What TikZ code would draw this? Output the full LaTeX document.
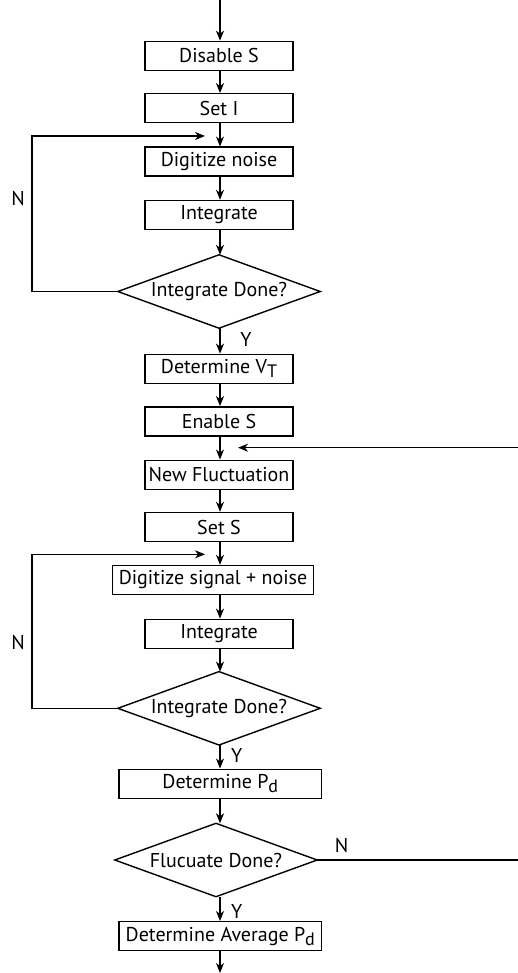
\documentclass[tikz,border=0pt]{standalone}
\usepackage{fontspec}
\setmainfont{PT Sans}
\usetikzlibrary{arrows.meta}
\begin{document}
\begin{tikzpicture}[x=1pt,y=-1pt,
  every node/.style={font=\fontsize{20}{22}\selectfont},
  box/.style={draw,line width=1.4pt,rectangle,minimum width=147.7pt,minimum height=29pt,inner sep=0pt},
  dia/.style={rectangle,minimum width=202pt,minimum height=73pt,inner sep=0pt},
  arr/.style={line width=1.4pt,-{Stealth[length=10pt,width=8pt,inset=3pt]}},
  lbl/.style={inner sep=0pt}]
\useasboundingbox (0,0) rectangle (518,973);
\clip (0,0) rectangle (518,973);
\newcommand{\sbT}{\raisebox{-0.4ex}{\fontsize{18}{18}\selectfont T}}
\newcommand{\sbd}{\raisebox{-0.4ex}{\fontsize{18}{18}\selectfont d}}
\coordinate (ax) at (220,0);
\node[box] (dis) at (219,55.9) {Disable S};
\node[box] (seti) at (219,108.3) {Set I};
\node[box] (dign) at (219,161.7) {Digitize noise};
\node[box] (int1) at (219,215) {Integrate};
\node[dia] (d1) at (219,291.5) {Integrate Done?};
\node[box] (vt) at (219,368.8) {Determine V\sbT};
\node[box] (ens) at (219,421.3) {Enable S};
\node[box] (newf) at (219,474.7) {New Fluctuation};
\node[box] (sets) at (219,527) {Set S};
\node[box,minimum width=201pt] (digs) at (213,580) {Digitize signal + noise};
\node[box] (int2) at (219,633.8) {Integrate};
\node[dia] (d2) at (219,708.3) {Integrate Done?};
\node[box,minimum width=202.7pt] (pd) at (220.3,783.7) {Determine P\sbd};
\node[dia] (d3) at (216,860) {Flucuate Done?};
\node[box,minimum width=202.7pt] (avg) at (220.3,936.2) {Determine Average P\sbd};
\foreach \d in {d1,d2,d3}
  \draw[line width=1.4pt] (\d.north) -- (\d.east) -- (\d.south) -- (\d.west) -- cycle;
\coordinate (top) at (220,0);
\coordinate (bot) at (220,973);
\draw[arr] (top) -- (dis.north -| ax);
\draw[arr] (dis.south -| ax) -- (seti.north -| ax);
\draw[arr] (seti.south -| ax) -- (dign.north -| ax);
\draw[arr] (dign.south -| ax) -- (int1.north -| ax);
\draw[arr] (int1.south -| ax) -- (d1.north -| ax);
\draw[arr] (d1.south -| ax) -- (vt.north -| ax);
\draw[arr] (vt.south -| ax) -- (ens.north -| ax);
\draw[arr] (ens.south -| ax) -- (newf.north -| ax);
\draw[arr] (newf.south -| ax) -- (sets.north -| ax);
\draw[arr] (sets.south -| ax) -- (digs.north -| ax);
\draw[arr] (digs.south -| ax) -- (int2.north -| ax);
\draw[arr] (int2.south -| ax) -- (d2.north -| ax);
\draw[arr] (d2.south -| ax) -- (pd.north -| ax);
\draw[arr] (pd.south -| ax) -- (d3.north -| ax);
\draw[arr] (d3.south -| ax) -- (avg.north -| ax);
\draw[arr] (avg.south -| ax) -- (bot);
\coordinate (l1a) at (32,136);
\coordinate (l1t) at (205,136);
\draw[arr] (d1.west) -| (l1a) -- (l1t);
\coordinate (l2a) at (32,554.3);
\coordinate (l2t) at (205,554.3);
\draw[arr] (d2.west) -| (l2a) -- (l2t);
\coordinate (r1) at (522,447.7);
\coordinate (r1t) at (238,447.7);
\draw[arr] (d3.east) -| (r1) -- (r1t);
\node[lbl] (n1) at (18,199) {N};
\node[lbl] (n2) at (18,642.7) {N};
\node[lbl] (n3) at (341.7,845) {N};
\node[lbl] (y1) at (246,339) {Y};
\node[lbl] (y2) at (236.7,755) {Y};
\node[lbl] (y3) at (236.7,911) {Y};
\end{tikzpicture}
\end{document}
